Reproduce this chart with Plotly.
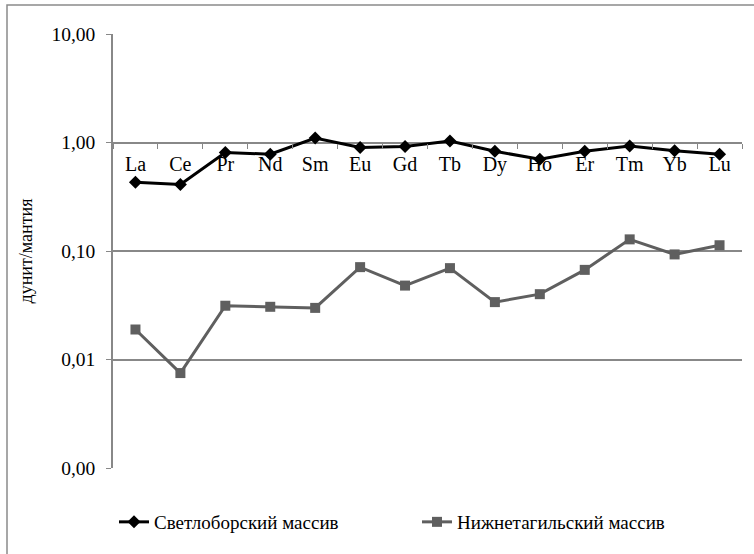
import plotly.graph_objects as go

elements = ["La", "Ce", "Pr", "Nd", "Sm", "Eu", "Gd", "Tb", "Dy", "Ho", "Er", "Tm", "Yb", "Lu"]
svetloborsky = [0.43, 0.41, 0.81, 0.78, 1.10, 0.90, 0.92, 1.03, 0.83, 0.70, 0.83, 0.93, 0.84, 0.78]
nizhnetagilsky = [0.0189, 0.0075, 0.0313, 0.0306, 0.0299, 0.071, 0.048, 0.0695, 0.0338, 0.040, 0.067, 0.128, 0.093, 0.113]
ytick_vals = [0.001, 0.01, 0.1, 1, 10]
ytick_text = ["0,00", "0,01", "0,10", "1,00", "10,00"]

SERIF = "Liberation Serif"

fig = go.Figure()
fig.add_trace(go.Scatter(
    x=elements, y=svetloborsky, name="Светлоборский массив",
    mode="lines+markers",
    line=dict(color="#000000", width=3),
    marker=dict(symbol="diamond", size=10, color="#000000"),
))
fig.add_trace(go.Scatter(
    x=elements, y=nizhnetagilsky, name="Нижнетагильский массив",
    mode="lines+markers",
    line=dict(color="#5f5f5f", width=3),
    marker=dict(symbol="square", size=10, color="#5f5f5f"),
))

L, R, T, B = 113, 12, 34, 86
W, H = 754, 554
pw, ph = W - L - R, H - T - B

fig.update_layout(
    width=W, height=H,
    margin=dict(l=L, r=R, t=T, b=B, autoexpand=False),
    paper_bgcolor="white", plot_bgcolor="white",
    font=dict(family=SERIF, size=19, color="#000000"),
    showlegend=True,
    legend=dict(orientation="h", xref="container", yref="container",
                x=114 / W, y=1 - 522 / H,
                xanchor="left", yanchor="middle",
                font=dict(family=SERIF, size=19, color="#000000"),
                entrywidth=258, entrywidthmode="pixels",
                bgcolor="rgba(0,0,0,0)"),
    xaxis=dict(
        type="category", anchor="free", position=0.75,
        showgrid=False, showline=False, zeroline=False,
        ticks="outside", tickson="boundaries", ticklen=5, tickcolor="#868686",
        tickwidth=1, ticklabelstandoff=7, automargin=False,
        tickfont=dict(family=SERIF, size=20, color="#000000"),
        range=[-0.5, len(elements) - 0.5],
    ),
    yaxis=dict(
        type="log", range=[-3, 1],
        tickvals=ytick_vals, ticktext=ytick_text,
        showgrid=True, gridcolor="#888888", gridwidth=1.5,
        showline=True, linecolor="#888888", linewidth=1.5,
        ticks="outside", ticklen=5, tickcolor="#888888",
        ticklabelstandoff=7, automargin=False,
        zeroline=False,
        tickfont=dict(family=SERIF, size=19.5, color="#000000"),
        title=dict(text="дунит/мантия", font=dict(family=SERIF, size=18, color="#000000"), standoff=14),
    ),
    shapes=[dict(type="rect", xref="paper", yref="paper",
                 x0=(7 - L) / pw, x1=(W + 5 - L) / pw,
                 y0=(H - B - (H + 5)) / ph, y1=(H - B - 5) / ph,
                 line=dict(color="#8a8a8a", width=1.5), fillcolor="rgba(0,0,0,0)",
                 layer="below")],
)

fig.write_html("out.html", config={"displayModeBar": False},
               post_script="document.body.style.margin='0';")
